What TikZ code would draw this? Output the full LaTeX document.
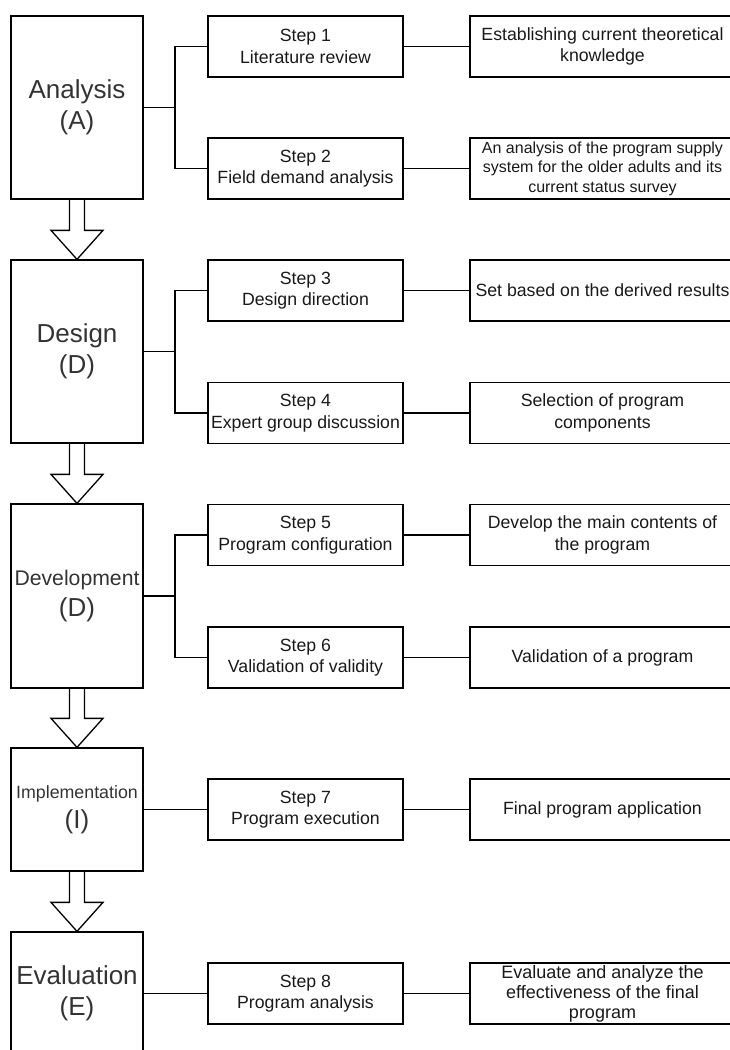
\documentclass[tikz,border=0pt]{standalone}
\usepackage{fontspec}
\setmainfont{Liberation Sans}
\usetikzlibrary{calc}
\newcommand{\flowarrow}[2]{%
  \draw[barrow] ($(#1.south)+(-7.5,0)$) -- ($(#2.north)+(-7.5,-29)$) -- ($(#2.north)+(-26,-29)$) -- (#2.north)
    -- ($(#2.north)+(26,-29)$) -- ($(#2.north)+(7.5,-29)$) -- ($(#1.south)+(7.5,0)$);}
\begin{document}
\begin{tikzpicture}[x=1pt,y=-1pt,
  phase/.style={draw, line width=1.3pt, minimum width=132pt, align=center, inner sep=0pt,
    text=black!80, font=\fontsize{26}{30.5}\selectfont},
  stepbox/.style={draw, line width=1.3pt, minimum width=195pt, minimum height=61pt, align=center,
    inner sep=0pt, text=black!90, font=\fontsize{17.7}{21.5}\selectfont},
  resbox/.style={draw, line width=1.3pt, minimum width=265pt, minimum height=61pt, align=center,
    inner sep=0pt, text=black!90, font=\fontsize{17.7}{21.5}\selectfont},
  conn/.style={line width=1.2pt},
  barrow/.style={line width=1.3pt, line join=miter}]
\useasboundingbox (0,0) rectangle (730,1050);
\clip (0,0) rectangle (730,1050);

% phase boxes
\node[phase, minimum height=183pt] (A) at (77,107.5) {Analysis\\(A)};
\node[phase, minimum height=183pt] (DS) at (77,351.5) {Design\\(D)};
\node[phase, minimum height=184pt] (DV) at (77,596) {{\fontsize{21.2}{30.5}\selectfont Development}\\(D)};
\node[phase, minimum height=123pt] (IM) at (77,809.5) {{\fontsize{17.8}{26}\selectfont Implementation}\\(I)};
\node[phase, minimum height=123pt] (EV) at (77,993.5) {Evaluation\\(E)};

% step boxes
\node[stepbox] (s1) at (305.5,46.5) {Step 1\\Literature review};
\node[stepbox] (s2) at (305.5,168.5) {Step 2\\Field demand analysis};
\node[stepbox] (s3) at (305.5,290.5) {Step 3\\Design direction};
\node[stepbox] (s4) at (305.5,413) {Step 4\\Expert group discussion};
\node[stepbox] (s5) at (305.5,535) {Step 5\\Program configuration};
\node[stepbox] (s6) at (305.5,657.5) {Step 6\\Validation of validity};
\node[stepbox] (s7) at (305.5,809.5) {Step 7\\Program execution};
\node[stepbox] (s8) at (305.5,993.5) {Step 8\\Program analysis};

% result boxes (right edge runs past the picture's edge)
\node[resbox] (r1) at (602.5,46.5) {Establishing current theoretical\\knowledge};
\node[resbox, font=\fontsize{16}{19.5}\selectfont] (r2) at (602.5,168.5) {An analysis of the program supply\\system for the older adults and its\\current status survey};
\node[resbox] (r3) at (602.5,290.5) {Set based on the derived results};
\node[resbox] (r4) at (602.5,413) {Selection of program\\components};
\node[resbox] (r5) at (602.5,535) {Develop the main contents of\\the program};
\node[resbox] (r6) at (602.5,657.5) {Validation of a program};
\node[resbox] (r7) at (602.5,809.5) {Final program application};
\node[resbox, font=\fontsize{18}{20}\selectfont] (r8) at (602.5,993.5) {Evaluate and analyze the\\effectiveness of the final\\program};

% junctions
\coordinate (jA) at (175,107.5);
\coordinate (jD) at (175,351.5);
\coordinate (jV) at (175,596);

% branch connectors
\draw[conn] (A.east) -- (jA);
\draw[conn] (s1.west) -| (jA) |- (s2.west);
\draw[conn] (DS.east) -- (jD);
\draw[conn] (s3.west) -| (jD) |- (s4.west);
\draw[conn] (DV.east) -- (jV);
\draw[conn] (s5.west) -| (jV) |- (s6.west);
\draw[conn] (IM.east) -- (s7.west);
\draw[conn] (EV.east) -- (s8.west);

% step to result
\foreach \i in {1,...,8} {\draw[conn] (s\i.east) -- (r\i.west);}

% block arrows
\flowarrow{A}{DS}
\flowarrow{DS}{DV}
\flowarrow{DV}{IM}
\flowarrow{IM}{EV}
\end{tikzpicture}
\end{document}
